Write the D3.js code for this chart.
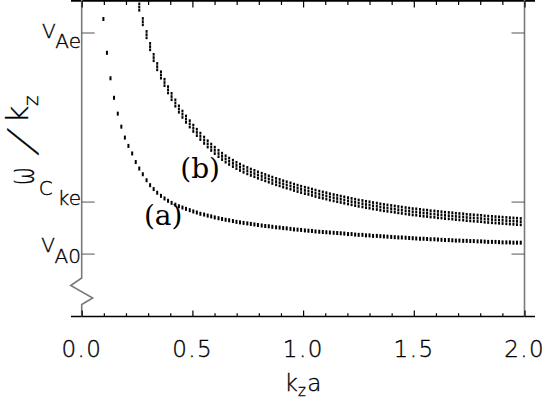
<!DOCTYPE html>
<html><head><meta charset="utf-8">
<script src="https://cdn.jsdelivr.net/npm/d3@7"></script>
<style>
html,body{margin:0;padding:0;background:#fff;}
svg{display:block;}
text{font-family:"DejaVu Sans",sans-serif;fill:#000;font-weight:300;stroke:#000;stroke-width:0.35px;}
text.serif{font-family:"DejaVu Serif",serif;font-weight:normal;stroke:none;}
</style></head><body>
<svg id="chart" width="545" height="399"></svg>
<script>
// ---------------- data ----------------
const kza = [
0.098,0.114,0.130,0.146,0.163,0.179,0.195,0.211,0.228,0.244,
0.260,0.276,0.293,0.309,0.325,0.341,0.358,0.374,0.390,0.406,
0.423,0.439,0.455,0.471,0.488,0.504,0.520,0.536,0.553,0.569,
0.585,0.601,0.618,0.634,0.650,0.666,0.683,0.699,0.715,0.731,
0.748,0.764,0.780,0.796,0.813,0.829,0.845,0.861,0.878,0.894,
0.910,0.926,0.943,0.959,0.975,0.991,1.008,1.024,1.040,1.056,
1.073,1.089,1.105,1.121,1.138,1.154,1.170,1.186,1.203,1.219,
1.235,1.251,1.268,1.284,1.300,1.316,1.333,1.349,1.365,1.381,
1.398,1.414,1.430,1.446,1.463,1.479,1.495,1.511,1.528,1.544,
1.560,1.576,1.593,1.609,1.625,1.641,1.658,1.674,1.690,1.706,
1.723,1.739,1.755,1.771,1.788,1.804,1.820,1.836,1.853,1.869,
1.885,1.901,1.918,1.934,1.950,1.966,1.983];

// branch (a): omega/kz
const omegaA = [
1.902,1.772,1.674,1.599,1.538,1.488,1.446,1.414,1.385,1.352,
1.327,1.305,1.282,1.263,1.248,1.234,1.222,1.212,1.203,1.195,
1.188,1.182,1.177,1.172,1.167,1.162,1.158,1.153,1.150,1.146,
1.143,1.139,1.136,1.133,1.130,1.128,1.125,1.122,1.120,1.118,
1.116,1.114,1.112,1.110,1.108,1.106,1.105,1.103,1.101,1.100,
1.098,1.097,1.095,1.093,1.092,1.091,1.089,1.088,1.087,1.085,
1.084,1.083,1.082,1.081,1.080,1.079,1.078,1.077,1.075,1.075,
1.073,1.072,1.072,1.070,1.070,1.068,1.068,1.067,1.066,1.065,
1.064,1.063,1.062,1.062,1.061,1.060,1.059,1.058,1.057,1.057,
1.056,1.055,1.055,1.054,1.053,1.052,1.052,1.051,1.050,1.050,
1.049,1.049,1.048,1.048,1.047,1.047,1.046,1.045,1.045,1.045,
1.044,1.043,1.043,1.043,1.042,1.042,1.042];

// branch (b): omega/kz (off-scale for the smallest kz)
const omegaB = [
null,null,null,null,null,null,null,null,null,null,
1.948,1.892,1.842,1.796,1.754,1.719,1.687,1.658,1.630,1.604,
1.579,1.556,1.536,1.517,1.499,1.482,1.466,1.451,1.436,1.422,
1.409,1.397,1.385,1.374,1.364,1.355,1.347,1.339,1.332,1.325,
1.319,1.313,1.308,1.302,1.297,1.292,1.287,1.282,1.277,1.273,
1.268,1.264,1.260,1.255,1.251,1.247,1.243,1.240,1.236,1.232,
1.228,1.225,1.222,1.218,1.215,1.212,1.209,1.206,1.203,1.200,
1.197,1.194,1.192,1.189,1.187,1.184,1.182,1.179,1.177,1.175,
1.173,1.171,1.169,1.167,1.165,1.163,1.161,1.160,1.158,1.156,
1.155,1.153,1.152,1.150,1.149,1.147,1.146,1.145,1.143,1.142,
1.141,1.139,1.138,1.137,1.136,1.135,1.133,1.132,1.131,1.130,
1.129,1.128,1.127,1.126,1.125,1.124,1.123];

const xMajorTicks = [0, 0.5, 1.0, 1.5, 2.0];
const xTickLabels = ["0.0", "0.5", "1.0", "1.5", "2.0"];
const xMinorTicks = [0.1,0.2,0.3,0.4,0.6,0.7,0.8,0.9,1.1,1.2,1.3,1.4,1.6,1.7,1.8,1.9];
const yTickValues = [1.85, 1.2, 1.0];
const yTickMain = ["V", "C", "V"];
const yTickSub = ["Ae", "ke", "A0"];
const curveNames = ["(a)", "(b)"];

// ---------------- layout ----------------
const plotBottom = 316.5;
const svg = d3.select("#chart");
const x = d3.scaleLinear().domain([0, 2]).range([81.7, 524.5]);
const y = d3.scaleLinear().domain([0.76, 1.975]).range([316, 0]);
const x0 = x(0), x1 = x(2);

svg.append("defs").append("clipPath").attr("id", "plotclip")
  .append("rect").attr("x", x0).attr("y", 0).attr("width", x1 - x0).attr("height", plotBottom);

// ---- data marks ----
const plot = svg.append("g").attr("clip-path", "url(#plotclip)");
const ptsA = kza.map((k, i) => ({k, v: omegaA[i]}));
const ptsB = kza.map((k, i) => ({k, v: omegaB[i]})).filter(d => d.v !== null);

plot.append("g").selectAll("rect").data(ptsA).join("rect")
  .attr("x", d => x(d.k) - 1).attr("y", d => y(d.v) - 2)
  .attr("width", 2).attr("height", 4).attr("fill", "#000");

const segOffsets = [-4.5, -1.3, 1.9];
const gB = plot.append("g");
segOffsets.forEach(o => {
  gB.append("g").selectAll("rect").data(ptsB).join("rect")
    .attr("x", d => x(d.k) - 1).attr("y", d => y(d.v) + o)
    .attr("width", 2).attr("height", 2.7).attr("fill", "#000");
});

// ---- frame ----
svg.append("line").attr("x1", 71).attr("x2", 535).attr("y1", 0.8).attr("y2", 0.8)
  .attr("stroke", "#000").attr("stroke-width", 2);
svg.append("line").attr("x1", 71).attr("x2", 535).attr("y1", plotBottom).attr("y2", plotBottom)
  .attr("stroke", "#000").attr("stroke-width", 1.5);

const brk = [[x0, 0], [x0, 278], [x0 - 11, 285.5], [x0 + 11, 298], [x0, 304.5], [x0, plotBottom]];
svg.append("path").attr("d", d3.line()(brk)).attr("fill", "none")
  .attr("stroke", "#7a7a7a").attr("stroke-width", 1.6);
svg.append("line").attr("x1", x1).attr("x2", x1).attr("y1", 0).attr("y2", plotBottom)
  .attr("stroke", "#7a7a7a").attr("stroke-width", 1.6);

function xTicks(gen, vals, size, ty) {
  svg.append("g").attr("transform", `translate(0,${ty})`)
    .call(gen(x).tickValues(vals).tickSize(size).tickFormat(""))
    .call(g => g.select(".domain").remove())
    .call(g => g.selectAll(".tick line").attr("stroke", "#000").attr("stroke-width", 1.2));
}
xTicks(d3.axisBottom, xMajorTicks, -6, plotBottom);
xTicks(d3.axisBottom, xMinorTicks, -3.3, plotBottom);
xTicks(d3.axisTop, xMajorTicks, -6.5, 1);
xTicks(d3.axisTop, xMinorTicks, -4, 1);

svg.append("g").attr("transform", `translate(${x0},0)`)
  .call(d3.axisRight(y).tickValues(yTickValues).tickSize(13).tickFormat(""))
  .call(g => g.select(".domain").remove())
  .call(g => g.selectAll(".tick line").attr("stroke", "#555"));
svg.append("g").attr("transform", `translate(${x1},0)`)
  .call(d3.axisLeft(y).tickValues(yTickValues).tickSize(13).tickFormat(""))
  .call(g => g.select(".domain").remove())
  .call(g => g.selectAll(".tick line").attr("stroke", "#555"));

// x tick labels
svg.append("g").selectAll("text").data(xMajorTicks).join("text")
  .attr("x", d => x(d) - 0.5).attr("y", 357)
  .attr("text-anchor", "middle").attr("font-size", 23)
  .attr("textLength", 39.5).attr("lengthAdjust", "spacing")
  .text((d, i) => xTickLabels[i]);

// x title k_z a
const xt = svg.append("text").attr("x", 303).attr("y", 391)
  .attr("text-anchor", "middle").attr("font-size", 23);
xt.append("tspan").text("k");
xt.append("tspan").attr("font-size", 15).attr("dy", 4.5).text("z");
xt.append("tspan").attr("dy", -4.5).attr("dx", 1.5).text("a");

// y tick labels with subscripts
const labOff = [[5.5, 10], [-6.6, 10], [-1.6, 11]];
const labDx = [1, 5, 1];
yTickValues.forEach((v, i) => {
  const t = svg.append("text").attr("x", 81).attr("y", y(v) + labOff[i][0])
    .attr("text-anchor", "end").attr("font-size", 20);
  t.append("tspan").text(yTickMain[i]);
  t.append("tspan").attr("dy", labOff[i][1]).attr("dx", labDx[i]).text(yTickSub[i]);
});

// y title  omega / k_z  (rotated)
const yt = svg.append("g").attr("transform", "rotate(-90)");
yt.append("text").attr("x", -185).attr("y", 34).attr("font-size", 36)
  .attr("textLength", 18).attr("lengthAdjust", "spacingAndGlyphs").text("\u03C9");
yt.append("text").attr("transform", "translate(-154,35) skewX(-26)")
  .attr("font-size", 38).text("/");
yt.append("text").attr("x", -123).attr("y", 28).attr("font-size", 30).text("k");
yt.append("text").attr("x", -106).attr("y", 38).attr("font-size", 20).text("z");

// curve labels
const labelPos = [[0.281, 1.110], [0.445, 1.291]];
svg.append("g").selectAll("text").data(curveNames).join("text")
  .attr("class", "serif")
  .attr("x", (d, i) => x(labelPos[i][0])).attr("y", (d, i) => y(labelPos[i][1]))
  .attr("font-size", 28).text(d => d);
</script>
</body></html>
